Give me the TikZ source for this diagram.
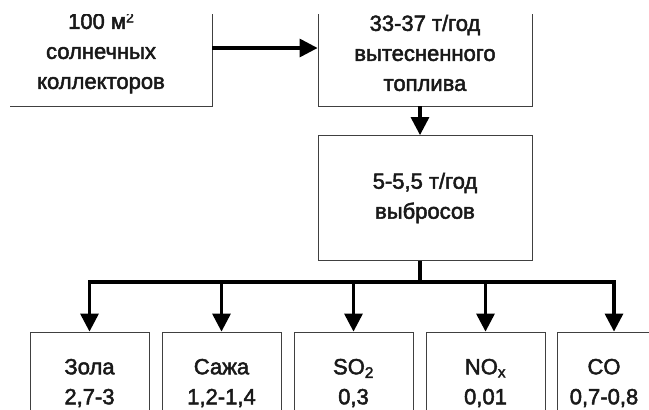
\documentclass[tikz,border=0pt]{standalone}
\usepackage{fontspec}
\setmainfont{Liberation Sans}[RawFeature={embolden=2.2}]
\usetikzlibrary{shapes,arrows.meta}
\newcommand{\sqidx}{\raisebox{6.5pt}{\fontsize{14}{14}\selectfont 2}}

\begin{document}
\begin{tikzpicture}[x=1pt,y=-1pt]
      \tikzstyle{point} = [coordinate]
      \tikzstyle{box} = [rectangle, draw=black!75, line width=0.8pt, inner sep=0pt, align=center,
                         text=black!90, font=\fontsize{22}{30}\selectfont]
      \tikzstyle{small} = [box, minimum width=119pt, minimum height=102pt]
      \tikzstyle{flow} = [line width=3.2pt, -{Triangle[length=18pt,width=18pt]}]
      \useasboundingbox (0,0) rectangle (649,410);
      \clip (10,14) rectangle (649,410);
      % first row
      \node (panels) [box, minimum width=222pt, minimum height=106pt] at (101,53)
        {100 м\sqidx\\солнечных\\коллекторов};
      \node (fuel) [box, minimum width=214pt, minimum height=106pt] at (425,53)
        {33-37 т/год\\вытесненного\\топлива};
      % second row
      \node (emis) [box, minimum width=214pt, minimum height=125pt] at (425,198)
        {5-5,5 т/год\\выбросов};
      \node (hub) [point] at (420,282) {};
      % third row
      \node (ash) [small] at (89.5,383) {Зола\\2,7-3};
      \node (soot) [small] at (221.5,383) {Сажа\\1,2-1,4};
      \node (so2) [small] at (353.5,383) {SO\textsubscript{2}\\0,3};
      \node (nox) [small] at (485.5,383) {NO\textsubscript{x}\\0,01};
      \node (co) [small, minimum width=94pt] at (604,383) {CO\\0,7-0,8};
      \draw [flow] ([yshift=5pt]panels.east)--([yshift=5pt]fuel.west);
      \draw [flow] (fuel.south -| hub)--(emis.north -| hub);
      \draw [line width=3.2pt] (emis.south -| hub)--(hub);
      \foreach \n in {ash,soot,so2,nox}
        \draw [flow] (hub) -| (\n.north);
      \draw [flow] (hub) -| ([xshift=10pt]co.north);
    \end{tikzpicture}
\end{document}
